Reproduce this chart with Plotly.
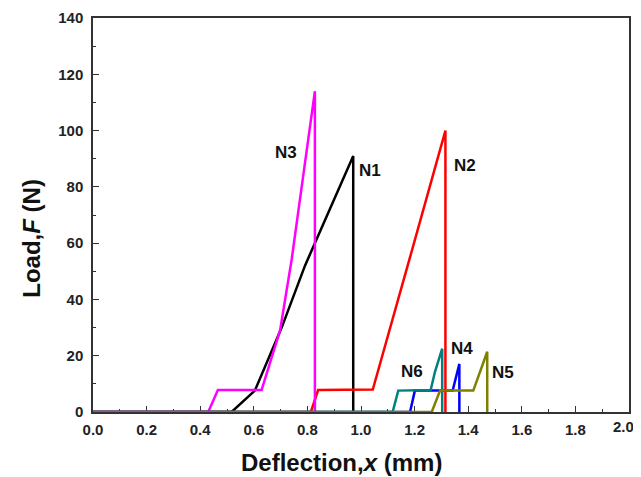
import plotly.graph_objects as go

# N1 (black)
n1_x = [0.0, 0.517, 0.604, 0.704, 0.791, 0.971, 0.971]
n1_y = [0, 0, 7.6, 30, 52, 91, 0]
# N2 (red)
n2_x = [0.0, 0.813, 0.84, 1.044, 1.183, 1.315, 1.315]
n2_y = [0, 0, 7.8, 8.0, 55, 100, 0]
# N3 (magenta)
n3_x = [0.0, 0.43, 0.466, 0.629, 0.698, 0.741, 0.828, 0.828]
n3_y = [0, 0, 7.8, 7.8, 29, 54, 114, 0]
# N4 (blue)
n4_x = [0.0, 1.183, 1.201, 1.342, 1.367, 1.367]
n4_y = [0, 0, 7.6, 7.6, 17.1, 0]
# N6 (teal)
n6_x = [0.0, 1.118, 1.139, 1.26, 1.276, 1.303, 1.303]
n6_y = [0, 0, 7.6, 7.8, 14.3, 22.5, 0]
# N5 (olive)
n5_x = [0.0, 1.264, 1.295, 1.419, 1.471, 1.471]
n5_y = [0, 0, 7.6, 7.6, 21.4, 0]

labels = ["N3", "N1", "N2", "N6", "N4", "N5"]
label_x = [0.719, 1.034, 1.388, 1.189, 1.376, 1.531]
label_y = [92.1, 85.8, 87.7, 14.3, 22.6, 13.9]

x_ticks = [0.0, 0.2, 0.4, 0.6, 0.8, 1.0, 1.2, 1.4, 1.6, 1.8, 2.0]
x_ticktext = ["0.0", "0.2", "0.4", "0.6", "0.8", "1.0", "1.2", "1.4", "1.6", "1.8", ""]
last_tick_label = "2.0"

x_title = "Deflection,<i>x</i> (mm)"
y_title = "Load,<i>F</i> (N)"

series = [
    (n1_x, n1_y, "#000000", "N1"),
    (n2_x, n2_y, "#FF0000", "N2"),
    (n3_x, n3_y, "#FF00FF", "N3"),
    (n4_x, n4_y, "#0000FF", "N4"),
    (n6_x, n6_y, "#008080", "N6"),
    (n5_x, n5_y, "#808000", "N5"),
]

FONT = "Liberation Sans, Arial, sans-serif"

fig = go.Figure()
for xs, ys, c, name in series:
    fig.add_trace(go.Scatter(x=xs, y=ys, mode="lines", name=name,
                             line=dict(color=c, width=2.5), showlegend=False))

for t, x, y in zip(labels, label_x, label_y):
    fig.add_annotation(x=x, y=y, text="<b>" + t + "</b>", showarrow=False,
                       font=dict(size=17, color="#111111", family=FONT))

# last x tick label, nudged left so it stays inside the page
fig.add_annotation(x=x_ticks[-1], y=0, xref="x", yref="y", text="<b>" + last_tick_label + "</b>",
                   showarrow=False, xanchor="center", yanchor="top", xshift=-6, yshift=-4,
                   font=dict(size=15, color="#222222", family=FONT))

fig.add_annotation(xref="paper", yref="paper", x=0.463, y=-0.129,
                   xanchor="center", yanchor="middle", showarrow=False,
                   text="<b>" + x_title + "</b>",
                   font=dict(size=24, color="#111111", family=FONT))
fig.add_annotation(xref="paper", yref="paper", x=-0.114, y=0.442,
                   xanchor="center", yanchor="middle", showarrow=False, textangle=-90,
                   text="<b>" + y_title + "</b>",
                   font=dict(size=24, color="#111111", family=FONT))

axis_common = dict(
    showline=True, linecolor="#333333", linewidth=1.5, mirror=True,
    ticks="inside", ticklen=6, tickwidth=1.2, tickcolor="#333333",
    showgrid=False, zeroline=False, automargin=False,
    tickfont=dict(size=15, color="#222222", family=FONT, weight="bold"),
    layer="below traces",
)

# page body has an 8px default margin, so the figure is sized to fit inside the window
fig.update_layout(
    width=633, height=469,
    margin=dict(l=85, r=12, t=10, b=65),
    paper_bgcolor="white", plot_bgcolor="white",
    font=dict(family=FONT),
    xaxis=dict(range=[0, 2.0], tickmode="array", tickvals=x_ticks, ticktext=x_ticktext,
               ticklabelstandoff=3,
               minor=dict(ticks="inside", ticklen=3, dtick=0.1, tickcolor="#333333"),
               **axis_common),
    yaxis=dict(range=[0, 140], dtick=20, tick0=0, ticklabelstandoff=5,
               minor=dict(ticks="inside", ticklen=3, dtick=10, tickcolor="#333333"),
               **axis_common),
)

fig.write_html("out.html")
